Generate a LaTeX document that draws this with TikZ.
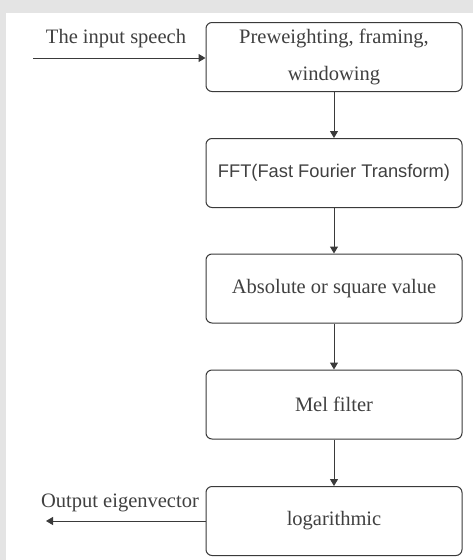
\documentclass[tikz,border=0pt]{standalone}
\usepackage{fontspec}
\setmainfont{Liberation Serif}
\newfontfamily\arialfont{Liberation Sans}
\usetikzlibrary{arrows.meta}
\definecolor{bggray}{HTML}{E4E4E4}
\definecolor{linegray}{HTML}{3A3A3A}
\definecolor{textgray}{HTML}{404040}
\begin{document}
\begin{tikzpicture}[x=1pt,y=-1pt,
  stagebox/.style={draw=linegray, line width=1pt, rounded corners=6pt, fill=white,
    minimum width=256pt, minimum height=69pt, inner sep=0pt, align=center,
    text=textgray, font=\fontsize{20.5}{37}\selectfont},
  flowarrow/.style={draw=linegray, line width=1pt, -{Triangle[length=7pt,width=8pt]}},
  sidelabel/.style={text=textgray, font=\fontsize{20.5}{24}\selectfont, inner sep=1pt}
]
\useasboundingbox (0,0) rectangle (473,560);
\fill[bggray] (0,0) rectangle (473,560);
\fill[white] (6,13) rectangle (473,560);

\node[stagebox] (pre) at (334,57) {Preweighting, framing,\\windowing};
\node[stagebox, font=\arialfont\fontsize{18.3}{22}\selectfont] (fft) at (334,173) {FFT(Fast Fourier Transform)};
\node[stagebox] (abs) at (334,288.5) {Absolute or square value};
\node[stagebox] (mel) at (334,404.5) {Mel filter};
\node[stagebox] (log) at (334,521) {logarithmic};

\coordinate (in) at (33,58);
\coordinate (out) at (46,521);

\draw[flowarrow] (in) -- (in -| pre.west);
\node[sidelabel] (inlabel) at (116,39) {The input speech};
\draw[flowarrow] (pre) -- (fft);
\draw[flowarrow] (fft) -- (abs);
\draw[flowarrow] (abs) -- (mel);
\draw[flowarrow] (mel) -- (log);
\draw[flowarrow] (log.west) -- (out);
\node[sidelabel] (outlabel) at (120,503) {Output eigenvector};
\end{tikzpicture}
\end{document}
